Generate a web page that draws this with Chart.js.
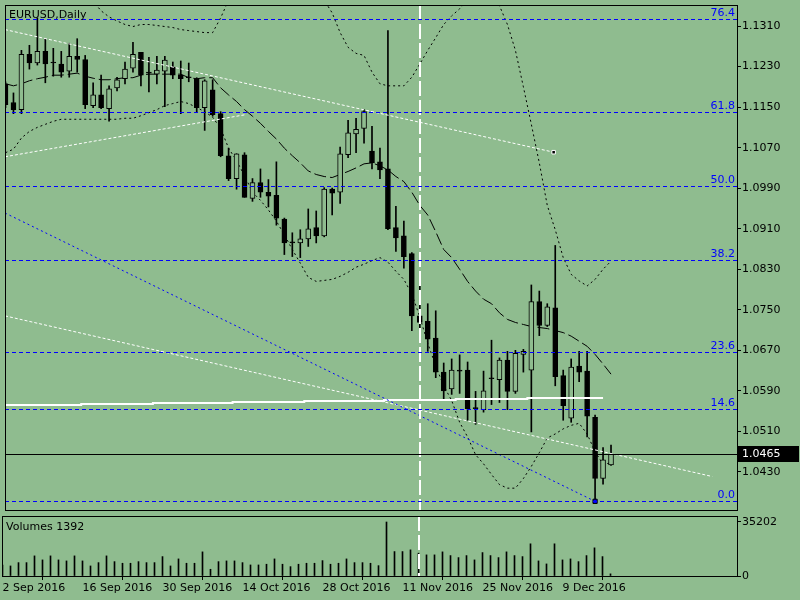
<!DOCTYPE html>
<html lang="en">
<head>
<meta charset="UTF-8" />
<title>EURUSD Daily</title>
<script src="https://cdn.jsdelivr.net/npm/chart.js@4.4.1/dist/chart.umd.min.js"></script>
<style>
  html, body { margin: 0; padding: 0; background: #8fbc8f; }
  #wrap { position: relative; width: 800px; height: 600px; overflow: hidden; }
  canvas { position: absolute; left: 0; }
  #main { top: 0; }
  #vol { top: 515px; }
</style>
</head>
<body>
<div id="wrap">
  <canvas id="main" width="800" height="515"></canvas>
  <canvas id="vol" width="800" height="85"></canvas>
</div>
<script>
/* ---- data (one entry per daily bar) ---- */
const TITLE = "EURUSD,Daily";

const OPEN = [
  1.1196, 1.1159, 1.1145, 1.1254, 1.1237, 1.1260, 1.1237, 1.1235, 1.1221, 1.1250,
  1.1244, 1.1153, 1.1174, 1.1147, 1.1188, 1.1206, 1.1227, 1.1258, 1.1217, 1.1215,
  1.1221, 1.1229, 1.1213, 1.1208, 1.1206, 1.1149, 1.1184, 1.1137, 1.1054, 1.1009,
  1.1056, 1.0970, 1.1001, 1.0982, 1.0976, 1.0929, 1.0882, 1.0882, 1.0890, 1.0912,
  1.0896, 1.0988, 1.0982, 1.1056, 1.1097, 1.1108, 1.1063, 1.1042, 1.1028, 1.0912,
  1.0896, 1.0861, 1.0738, 1.0727, 1.0694, 1.0627, 1.0594, 1.0629, 1.0631, 1.0555,
  1.0553, 1.0614, 1.0612, 1.0651, 1.0589, 1.0662, 1.0631, 1.0766, 1.0719, 1.0754,
  1.0620, 1.0536, 1.0639, 1.0629, 1.0538, 1.0417, 1.0444
];
const HIGH = [
  1.1200, 1.1178, 1.1262, 1.1272, 1.1326, 1.1285, 1.1266, 1.1260, 1.1276, 1.1285,
  1.1252, 1.1198, 1.1213, 1.1192, 1.1209, 1.1239, 1.1278, 1.1258, 1.1248, 1.1250,
  1.1250, 1.1239, 1.1241, 1.1237, 1.1208, 1.1204, 1.1204, 1.1141, 1.1069, 1.1058,
  1.1060, 1.1009, 1.1028, 1.1007, 1.1042, 1.0931, 1.0902, 1.0908, 1.0949, 1.0945,
  1.0991, 1.0990, 1.1071, 1.1124, 1.1128, 1.1145, 1.1112, 1.1069, 1.1301, 1.0954,
  1.0925, 1.0863, 1.0820, 1.0762, 1.0748, 1.0645, 1.0653, 1.0661, 1.0647, 1.0589,
  1.0629, 1.0690, 1.0655, 1.0668, 1.0670, 1.0672, 1.0799, 1.0787, 1.0762, 1.0877,
  1.0631, 1.0653, 1.0668, 1.0668, 1.0542, 1.0478, 1.0483
];
const LOW = [
  1.1149, 1.1137, 1.1137, 1.1225, 1.1233, 1.1198, 1.1211, 1.1209, 1.1209, 1.1219,
  1.1147, 1.1149, 1.1147, 1.1122, 1.1182, 1.1196, 1.1219, 1.1192, 1.1180, 1.1196,
  1.1151, 1.1206, 1.1137, 1.1200, 1.1141, 1.1104, 1.1132, 1.1052, 1.1005, 1.0988,
  1.0972, 1.0964, 1.0972, 1.0953, 1.0917, 1.0859, 1.0855, 1.0853, 1.0875, 1.0882,
  1.0894, 1.0937, 1.0960, 1.1050, 1.1060, 1.1079, 1.1028, 1.1009, 1.0908, 1.0865,
  1.0832, 1.0709, 1.0709, 1.0668, 1.0616, 1.0571, 1.0583, 1.0585, 1.0532, 1.0524,
  1.0548, 1.0563, 1.0567, 1.0553, 1.0585, 1.0627, 1.0509, 1.0699, 1.0717, 1.0600,
  1.0532, 1.0528, 1.0608, 1.0499, 1.0372, 1.0406, 1.0443
];
const CLOSE = [
  1.1155, 1.1145, 1.1254, 1.1237, 1.1260, 1.1235, 1.1237, 1.1219, 1.1250, 1.1244,
  1.1155, 1.1174, 1.1149, 1.1186, 1.1204, 1.1225, 1.1254, 1.1213, 1.1217, 1.1223,
  1.1243, 1.1213, 1.1206, 1.1208, 1.1149, 1.1202, 1.1135, 1.1054, 1.1009, 1.1058,
  1.0972, 1.1001, 1.0982, 1.0974, 1.0931, 1.0882, 1.0882, 1.0890, 1.0910, 1.0896,
  1.0988, 1.0980, 1.1058, 1.1099, 1.1106, 1.1141, 1.1040, 1.1026, 1.0910, 1.0892,
  1.0855, 1.0738, 1.0725, 1.0692, 1.0627, 1.0590, 1.0631, 1.0629, 1.0555, 1.0555,
  1.0590, 1.0614, 1.0651, 1.0589, 1.0664, 1.0668, 1.0766, 1.0719, 1.0756, 1.0618,
  1.0561, 1.0637, 1.0627, 1.0540, 1.0417, 1.0454, 1.0465
];
const VOLUME = [
  7200, 6555, 8720, 8720, 13110, 10490, 13110, 10490, 9830, 13110,
  9830, 6555, 8720, 13110, 9370, 8320, 8320, 9370, 8720, 8720,
  12650, 6555, 11140, 8320, 8320, 15730, 4390, 9370, 9830, 9830,
  8720, 7210, 7210, 7670, 11140, 7670, 6100, 7670, 8320, 8320,
  10030, 7670, 8320, 11140, 8720, 8720, 8320, 6750, 35202, 15930,
  15930, 17040, 14880, 13770, 13770, 15730, 13310, 12000, 13310, 10490,
  15270, 13310, 12000, 15730, 13310, 12650, 20980, 9830, 7870, 20980,
  10490, 11140, 9370, 13310, 18350, 12650, 1392
];

// band middle line, upper and lower band
const MA_MID = [
  1.1196, 1.1192, 1.1196, 1.1202, 1.1206, 1.1209, 1.1213, 1.1213, 1.1215, 1.1217,
  1.1211, 1.1207, 1.1204, 1.1204, 1.1206, 1.1208, 1.1208, 1.1213, 1.1215, 1.1215,
  1.1215, 1.1215, 1.1215, 1.1208, 1.1206, 1.1208, 1.1208, 1.1188, 1.1174, 1.1161,
  1.1145, 1.1132, 1.1118, 1.1102, 1.1087, 1.1069, 1.1054, 1.1040, 1.1024, 1.1017,
  1.1013, 1.1011, 1.1017, 1.1023, 1.1030, 1.1038, 1.1040, 1.1034, 1.1026, 1.1013,
  1.1003, 1.0982, 1.0956, 1.0937, 1.0904, 1.0869, 1.0853, 1.0830, 1.0806, 1.0787,
  1.0771, 1.0762, 1.0744, 1.0731, 1.0725, 1.0721, 1.0717, 1.0715, 1.0713, 1.0709,
  1.0705, 1.0698, 1.0688, 1.0678, 1.0662, 1.0643, 1.0623
];
const BAND_UP = [
  1.1394, 1.1402, 1.1410, 1.1414, 1.1414, 1.1410, 1.1402, 1.1394, 1.1385, 1.1375,
  1.1367, 1.1359, 1.1340, 1.1328, 1.1320, 1.1313, 1.1309, 1.1313, 1.1313, 1.1311,
  1.1309, 1.1307, 1.1303, 1.1301, 1.1299, 1.1297, 1.1297, 1.1326, 1.1361, 1.1398,
  1.1424, 1.1441, 1.1453, 1.1461, 1.1462, 1.1457, 1.1443, 1.1424, 1.1402, 1.1379,
  1.1361, 1.1336, 1.1297, 1.1268, 1.1256, 1.1252, 1.1219, 1.1196, 1.1192, 1.1192,
  1.1192, 1.1209, 1.1235, 1.1262, 1.1287, 1.1313, 1.1330, 1.1344, 1.1361, 1.1373,
  1.1375, 1.1363, 1.1350, 1.1313, 1.1262, 1.1190, 1.1116, 1.1040, 1.0956, 1.0908,
  1.0853, 1.0820, 1.0807, 1.0797, 1.0810, 1.0830, 1.0846
];
const BAND_LO = [
  1.1060, 1.1067, 1.1089, 1.1102, 1.1110, 1.1116, 1.1122, 1.1126, 1.1126, 1.1126,
  1.1126, 1.1126, 1.1126, 1.1126, 1.1126, 1.1128, 1.1128, 1.1133, 1.1139, 1.1145,
  1.1153, 1.1157, 1.1161, 1.1157, 1.1149, 1.1141, 1.1130, 1.1108, 1.1069, 1.1044,
  1.1015, 1.0982, 1.0966, 1.0947, 1.0925, 1.0898, 1.0869, 1.0842, 1.0814, 1.0806,
  1.0808, 1.0810, 1.0816, 1.0824, 1.0834, 1.0840, 1.0847, 1.0853, 1.0844, 1.0826,
  1.0810, 1.0781, 1.0736, 1.0684, 1.0639, 1.0600, 1.0571, 1.0528, 1.0499, 1.0464,
  1.0446, 1.0425, 1.0405, 1.0398, 1.0398, 1.0417, 1.0441, 1.0468, 1.0497, 1.0505,
  1.0515, 1.0522, 1.0526, 1.0505, 1.0470, 1.0445, 1.0448
];
// long moving average (white), last bar not drawn
const MA_LONG = [
  1.0562, 1.0562, 1.0562, 1.0562, 1.0562, 1.0562, 1.0562, 1.0562, 1.0562, 1.0562,
  1.0564, 1.0564, 1.0564, 1.0564, 1.0564, 1.0564, 1.0564, 1.0564, 1.0564, 1.0566,
  1.0566, 1.0566, 1.0566, 1.0566, 1.0566, 1.0566, 1.0566, 1.0566, 1.0566, 1.0568,
  1.0568, 1.0568, 1.0568, 1.0568, 1.0568, 1.0568, 1.0568, 1.0568, 1.0570, 1.0570,
  1.0570, 1.0570, 1.0570, 1.0570, 1.0570, 1.0570, 1.0570, 1.0570, 1.0572, 1.0572,
  1.0572, 1.0572, 1.0572, 1.0572, 1.0572, 1.0572, 1.0572, 1.0574, 1.0574, 1.0574,
  1.0574, 1.0574, 1.0574, 1.0574, 1.0574, 1.0574, 1.0576, 1.0576, 1.0576, 1.0576,
  1.0576, 1.0576, 1.0576, 1.0576, 1.0576, 1.0576, null
];

// trend lines: [start, end] in bar index and price
const TREND_A_BARS = [-0.06, 68.8];
const TREND_A_PRICES = [1.1303, 1.1061];
const TREND_B_BARS = [-0.06, 30.1];
const TREND_B_PRICES = [1.1052, 1.1135];
const TREND_C_BARS = [-0.06, 88.7];
const TREND_C_PRICES = [1.0738, 1.0421];
const BLUE_BARS = [-0.06, 74];
const BLUE_PRICES = [1.0941, 1.0372];

const FIB_LABELS = ["76.4", "61.8", "50.0", "38.2", "23.6", "14.6", "0.0"];
const FIB_PRICES = [1.1324, 1.1141, 1.0995, 1.0848, 1.0666, 1.0554, 1.0372];

const PRICE_TICKS = [1.1310, 1.1230, 1.1150, 1.1070, 1.0990, 1.0910, 1.0830,
                     1.0750, 1.0670, 1.0590, 1.0510, 1.0430];
const VOL_TICKS = [35202, 0];
const DATE_BARS = [0, 10, 20, 30, 40, 50, 60, 70];
const DATE_LABELS = ["2 Sep 2016", "16 Sep 2016", "30 Sep 2016", "14 Oct 2016",
                     "28 Oct 2016", "11 Nov 2016", "25 Nov 2016", "9 Dec 2016"];
const LAST_PRICE = 1.0465;
const MARK_BAR = 52;   // vertical separator

/* ---- look ---- */
const BG = "#8fbc8f";
const X_MIN = -0.0625, X_MAX = 91.8125;        // 8 px per bar
const Y_MIN = 1.03549, Y_MAX = 1.13515;
const VOL_MAX = 39113;

Chart.defaults.font.family = "DejaVu Sans";
Chart.defaults.font.size = 11;
Chart.defaults.color = "#000";

const idx = OPEN.map((_, i) => i);
const pts = (arr) => idx.map((i) => ({ x: i, y: arr[i] }));
const seg = (bars, prices) => bars.map((b, i) => ({ x: b, y: prices[i] }));

const lineDs = (data, color, dash, width, order, extra) =>
  Object.assign({
    type: "line", data, borderColor: color, borderWidth: width,
    borderDash: dash, pointRadius: 0, fill: false, tension: 0, order,
  }, extra || {});

const axisGrid = { drawOnChartArea: false, drawTicks: true, tickLength: 4, color: "#000" };

// keep tick labels from shrinking the plot area
const noPad = (s) => {
  s.paddingTop = 0; s.paddingBottom = 0; s.paddingLeft = 0; s.paddingRight = 0;
};

// crisp one-pixel dashed horizontal line
function hDash(ctx, x0, x1, y, on, off) {
  for (let x = x0; x < x1; x += on + off) {
    ctx.fillRect(x, y, Math.min(on, x1 - x), 1);
  }
}

/* ---- main panel helpers ---- */
const mainOverlay = {
  id: "mainOverlay",
  afterDatasetsDraw(chart) {
    const { ctx, chartArea: a, scales } = chart;
    ctx.save();
    ctx.beginPath();
    ctx.rect(a.left, a.top, a.right - a.left, a.bottom - a.top);
    ctx.clip();

    // vertical separator
    const vx = Math.round(scales.x.getPixelForValue(MARK_BAR));
    ctx.strokeStyle = "#fff";
    ctx.lineWidth = 2;
    ctx.setLineDash([15, 4]);
    ctx.beginPath();
    ctx.moveTo(vx, a.top);
    ctx.lineTo(vx, a.bottom);
    ctx.stroke();

    // fibo levels
    ctx.fillStyle = "#0000ff";
    ctx.textAlign = "right";
    ctx.textBaseline = "bottom";
    ctx.font = "11px 'DejaVu Sans'";
    FIB_PRICES.forEach((p, i) => {
      const y = Math.round(scales.y.getPixelForValue(p));
      hDash(ctx, a.left, a.right, y, 4, 3);
      ctx.fillText(FIB_LABELS[i], a.right - 2, y);
    });

    // last price line
    ctx.fillStyle = "#000";
    const py = Math.round(scales.y.getPixelForValue(LAST_PRICE));
    ctx.fillRect(a.left, py, a.right - a.left, 1);
    ctx.restore();
  },
  afterDraw(chart) {
    const { ctx, chartArea: a, scales } = chart;
    ctx.save();
    ctx.strokeStyle = "#000";
    ctx.lineWidth = 1;
    ctx.strokeRect(a.left + 0.5, a.top + 0.5, a.right - a.left, a.bottom - a.top);

    ctx.fillStyle = "#000";
    ctx.font = "11px 'DejaVu Sans'";
    ctx.textAlign = "left";
    ctx.textBaseline = "middle";
    ctx.fillText(TITLE, a.left + 4, a.top + 10);

    // price tag on the axis
    const py = Math.round(scales.y.getPixelForValue(LAST_PRICE));
    ctx.fillRect(a.right + 1, py - 8, 61, 16);
    ctx.fillStyle = "#fff";
    ctx.fillText(LAST_PRICE.toFixed(4), a.right + 5, py + 0.5);
    ctx.restore();
  },
};

new Chart(document.getElementById("main"), {
  type: "bar",
  data: {
    datasets: [
      lineDs(pts(BAND_UP), "#000", [2, 3], 1, 10),
      lineDs(pts(BAND_LO), "#000", [2, 3], 1, 10),
      lineDs(pts(MA_MID), "#000", [12, 4], 1, 10),
      {
        type: "bar",
        data: idx.map((i) => ({ x: i, y: [LOW[i], HIGH[i]] })),
        backgroundColor: "#000",
        borderWidth: 0,
        barThickness: 1,
        grouped: false,
        order: 6,
      },
      {
        type: "bar",
        data: idx.map((i) => ({ x: i, y: [OPEN[i], CLOSE[i]] })),
        backgroundColor: idx.map((i) => (CLOSE[i] > OPEN[i] ? BG : "#000")),
        borderColor: "#000",
        borderWidth: 1,
        borderSkipped: false,
        barThickness: 5,
        minBarLength: 1,
        grouped: false,
        order: 5,
      },
      lineDs(pts(MA_LONG), "#fff", [], 2, 3, { stepped: "middle", spanGaps: false }),
      lineDs(seg(TREND_A_BARS, TREND_A_PRICES), "#fff", [3, 2], 1, 2, {
        pointRadius: [0, 2.5], pointStyle: "rect",
        pointBackgroundColor: "#000", pointBorderColor: "#fff", pointBorderWidth: 1,
      }),
      lineDs(seg(TREND_B_BARS, TREND_B_PRICES), "#fff", [3, 2], 1, 2),
      lineDs(seg(TREND_C_BARS, TREND_C_PRICES), "#fff", [3, 2], 1, 2),
      lineDs(seg(BLUE_BARS, BLUE_PRICES), "#0000ff", [2, 3], 1, 1, {
        pointRadius: [0, 3], pointStyle: "rect",
        pointBackgroundColor: "#0000ff", pointBorderColor: "#000", pointBorderWidth: 1,
      }),
    ],
  },
  options: {
    responsive: false,
    animation: false,
    devicePixelRatio: 1,
    events: [],
    layout: { padding: { left: 2, right: 0, top: 2, bottom: 1 } },
    plugins: { legend: { display: false }, tooltip: { enabled: false } },
    scales: {
      x: { type: "linear", min: X_MIN, max: X_MAX, offset: false, display: false },
      y: {
        type: "linear",
        position: "right",
        min: Y_MIN,
        max: Y_MAX,
        afterBuildTicks: (s) => { s.ticks = PRICE_TICKS.map((v) => ({ value: v })); },
        afterFit: (s) => { s.width = 63; noPad(s); },
        grid: axisGrid,
        border: { display: false },
        ticks: { padding: 1, color: "#000", callback: (v) => Number(v).toFixed(4) },
      },
    },
  },
  plugins: [mainOverlay],
});

/* ---- volume panel ---- */
const volOverlay = {
  id: "volOverlay",
  afterDatasetsDraw(chart) {
    const { ctx, chartArea: a, scales } = chart;
    const vx = Math.round(scales.x.getPixelForValue(MARK_BAR));
    ctx.save();
    ctx.strokeStyle = "#fff";
    ctx.lineWidth = 2;
    ctx.setLineDash([15, 4]);
    ctx.beginPath();
    ctx.moveTo(vx, a.top);
    ctx.lineTo(vx, a.bottom);
    ctx.stroke();
    ctx.restore();
  },
  afterDraw(chart) {
    const { ctx, chartArea: a } = chart;
    ctx.save();
    ctx.strokeStyle = "#000";
    ctx.lineWidth = 1;
    ctx.strokeRect(a.left + 0.5, a.top + 0.5, a.right - a.left, a.bottom - a.top);
    ctx.fillStyle = "#000";
    ctx.font = "11px 'DejaVu Sans'";
    ctx.textAlign = "left";
    ctx.textBaseline = "middle";
    ctx.fillText("Volumes " + VOLUME[VOLUME.length - 1], a.left + 4, a.top + 11);
    ctx.restore();
  },
};

new Chart(document.getElementById("vol"), {
  type: "bar",
  data: {
    datasets: [{
      data: idx.map((i) => ({ x: i, y: VOLUME[i] })),
      backgroundColor: "#000",
      borderWidth: 0,
      barThickness: 1,
      grouped: false,
    }],
  },
  options: {
    responsive: false,
    animation: false,
    devicePixelRatio: 1,
    events: [],
    layout: { padding: { left: 2, right: 0, top: 1, bottom: 0 } },
    plugins: { legend: { display: false }, tooltip: { enabled: false } },
    scales: {
      x: {
        type: "linear",
        min: X_MIN,
        max: X_MAX,
        offset: false,
        afterBuildTicks: (s) => { s.ticks = DATE_BARS.map((v) => ({ value: v })); },
        afterFit: (s) => { s.height = 24; noPad(s); },
        grid: axisGrid,
        border: { display: false },
        ticks: {
          align: "start",
          maxRotation: 0,
          autoSkip: false,
          padding: 2,
          color: "#000",
          callback: (v, i) => DATE_LABELS[i],
        },
      },
      y: {
        type: "linear",
        position: "right",
        min: 0,
        max: VOL_MAX,
        afterBuildTicks: (s) => { s.ticks = VOL_TICKS.map((v) => ({ value: v })); },
        afterFit: (s) => { s.width = 63; noPad(s); },
        grid: axisGrid,
        border: { display: false },
        ticks: { padding: 1, color: "#000", callback: (v) => String(v) },
      },
    },
  },
  plugins: [volOverlay],
});
</script>
</body>
</html>
